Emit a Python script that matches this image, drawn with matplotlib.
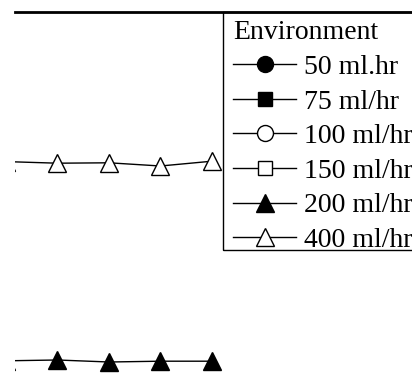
import matplotlib.pyplot as plt
from matplotlib.patches import Rectangle

plt.rcParams['font.family'] = ['Liberation Serif', 'DejaVu Serif']

hours = [0, 1, 2, 3, 4]
flow_400 = [62.6, 62.2, 62.3, 61.5, 62.7]
flow_200 = [12.8, 13.0, 12.5, 12.7, 12.7]

labels = ['50 ml.hr', '75 ml/hr', '100 ml/hr', '150 ml/hr', '200 ml/hr', '400 ml/hr']

fig = plt.figure(figsize=(4.12, 3.76), dpi=100)
# only the top-left part of the original plot is in view
ax = fig.add_axes([15/412, -36/376, 506/412, 400/376])

ax.plot([], [], '-o', color='black', mfc='black', ms=11.5, lw=1, label=labels[0])
ax.plot([], [], '-s', color='black', mfc='black', ms=10, lw=1, label=labels[1])
ax.plot([], [], '-o', color='black', mfc='white', ms=11.5, lw=1, label=labels[2])
ax.plot([], [], '-s', color='black', mfc='white', ms=10, lw=1, label=labels[3])
ax.plot(hours, flow_200, '-^', color='black', mfc='black', ms=13.5, lw=1, label=labels[4])
ax.plot(hours, flow_400, '-^', color='black', mfc='white', ms=13.5, lw=1, label=labels[5])

ax.set_xlim(0.175, 10)
ax.set_ylim(0, 100)
ax.set_xticks([])
ax.set_yticks([])
ax.spines['left'].set_visible(False)
ax.spines['top'].set_linewidth(2)

leg = ax.legend(title='Environment', loc='upper left',
                bbox_to_anchor=(225/412, 1 - 12/376), bbox_transform=fig.transFigure,
                borderaxespad=0, fontsize=20, title_fontsize=20,
                frameon=False, handlelength=2.25, handletextpad=0.3, borderpad=0.3,
                labelspacing=0.33, alignment='left')

# legend box, tighter at the bottom than matplotlib's own frame
fig.patches.append(Rectangle((223/412, 1 - 250/376), 0.6, 238/376, transform=fig.transFigure,
                             fill=False, edgecolor='black', lw=1))

plt.savefig('out.png', dpi=100)
